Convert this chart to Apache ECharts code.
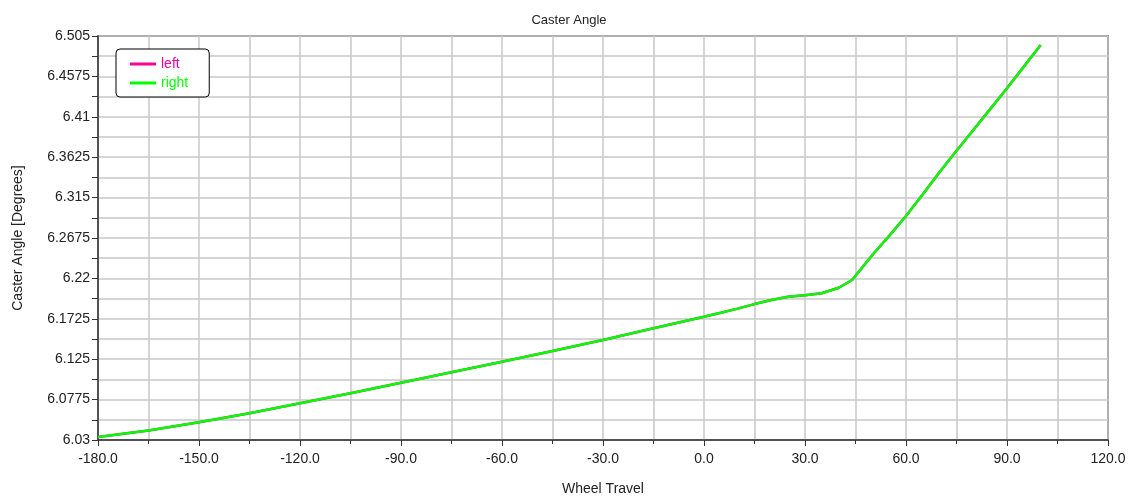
<!DOCTYPE html>
<html>
<head>
<meta charset="utf-8">
<title>Caster Angle</title>
<script src="https://cdn.jsdelivr.net/npm/echarts@6/dist/echarts.min.js"></script>
<style>
    html, body { margin: 0; padding: 0; background: #fff; }
    #graph { width: 1138px; height: 497px; }
</style>
</head>
<body>
<div id="graph"></div>
<script>
// wheel travel (x) and caster angle (y)
var travel = [-180, -165, -150, -135, -120, -105, -90, -75, -60, -45, -30, -15, 0,
    5, 10, 15, 20, 25, 30, 35, 40, 44, 50, 55, 60, 65, 70, 75, 80, 85, 90, 95, 100];
var casterRight = [6.0335, 6.0412, 6.0508, 6.0614, 6.0731, 6.0849, 6.0974, 6.1096, 6.1221, 6.1346, 6.1476, 6.1613, 6.1750,
    6.1797, 6.1845, 6.1898, 6.1945, 6.1985, 6.2003, 6.2025, 6.2090, 6.2181, 6.2475, 6.2700, 6.2933, 6.3190, 6.3450, 6.3700, 6.3945, 6.4190, 6.4435, 6.4690, 6.4944];
// left curve sits exactly under the right one
var casterLeft = casterRight.slice();

var yMin = 6.03;      // axis bottom
var yStep = 0.0475;   // label step
var yMax = 6.505;

var font = 'Liberation Sans, Arial, sans-serif';

function pairs(xs, ys) {
    var out = [];
    for (var i = 0; i < xs.length; i++) {
        // y is shifted by yMin so that ticks start at the axis bottom
        out.push([xs[i], ys[i] - yMin]);
    }
    return out;
}

var myChart = echarts.init(document.getElementById('graph'));
var option = {
    animation: false,
    textStyle: { fontFamily: font },
    title: {
        text: 'Caster Angle',
        left: 'center',
        top: 9,
        textStyle: { fontSize: 13, fontWeight: 'normal', color: '#222', fontFamily: font }
    },
    legend: {
        orient: 'vertical',
        left: 116,
        top: 49,
        padding: [8, 21, 7, 14],
        icon: 'rect',
        itemWidth: 26,
        itemHeight: 3,
        itemGap: 5,
        borderColor: '#000',
        borderWidth: 1,
        borderRadius: 4,
        backgroundColor: '#fff',
        textStyle: { fontSize: 14, fontFamily: font },
        data: [
            { name: 'left', textStyle: { color: '#ff0099' } },
            { name: 'right', textStyle: { color: '#00ff00' } }
        ]
    },
    grid: {
        left: 98,
        right: 30,
        top: 36,
        bottom: 57,
        outerBoundsMode: 'none',
        show: true,
        borderColor: '#333',
        borderWidth: 1.5,
        backgroundColor: '#fff'
    },
    xAxis: {
        type: 'value',
        min: -180,
        max: 120,
        interval: 30,
        name: 'Wheel Travel',
        nameLocation: 'middle',
        nameGap: 42,
        nameTextStyle: { fontSize: 14, color: '#222', fontFamily: font },
        axisLine: { show: true, onZero: false, lineStyle: { color: '#333', width: 1.5 } },
        axisTick: { show: true, length: 6, lineStyle: { color: '#333' } },
        minorTick: { show: true, splitNumber: 2, length: 4, lineStyle: { color: '#333' } },
        axisLabel: {
            fontSize: 14,
            color: '#222',
            margin: 12,
            formatter: function (v) { return v.toFixed(1); }
        },
        splitLine: { show: true, lineStyle: { color: '#c8c8c8', width: 1.5 } },
        minorSplitLine: { show: true, lineStyle: { color: '#c8c8c8', width: 1.5 } }
    },
    yAxis: {
        type: 'value',
        min: 0,
        max: yMax - yMin,
        interval: yStep,
        name: 'Caster Angle [Degrees]',
        nameLocation: 'middle',
        nameGap: 73,
        nameTextStyle: { fontSize: 14, color: '#222', fontFamily: font },
        axisLine: { show: true, onZero: false, lineStyle: { color: '#333', width: 1.5 } },
        axisTick: { show: true, length: 6, lineStyle: { color: '#333' } },
        minorTick: { show: true, splitNumber: 2, length: 6, lineStyle: { color: '#333' } },
        axisLabel: {
            fontSize: 14,
            color: '#222',
            margin: 8,
            formatter: function (v) { return String(+(v + yMin).toFixed(4)); }
        },
        splitLine: { show: true, lineStyle: { color: '#c8c8c8', width: 1.5 } },
        minorSplitLine: { show: true, lineStyle: { color: '#c8c8c8', width: 1.5 } }
    },
    series: [
        {
            name: 'left',
            type: 'line',
            symbol: 'none',
            lineStyle: { color: '#ff0099', width: 2.5 },
            itemStyle: { color: '#ff0099' },
            data: pairs(travel, casterLeft)
        },
        {
            name: 'right',
            type: 'line',
            symbol: 'none',
            lineStyle: { color: '#00ff00', width: 2.5 },
            itemStyle: { color: '#00ff00' },
            data: pairs(travel, casterRight)
        }
    ]
};
myChart.setOption(option);
</script>
</body>
</html>
